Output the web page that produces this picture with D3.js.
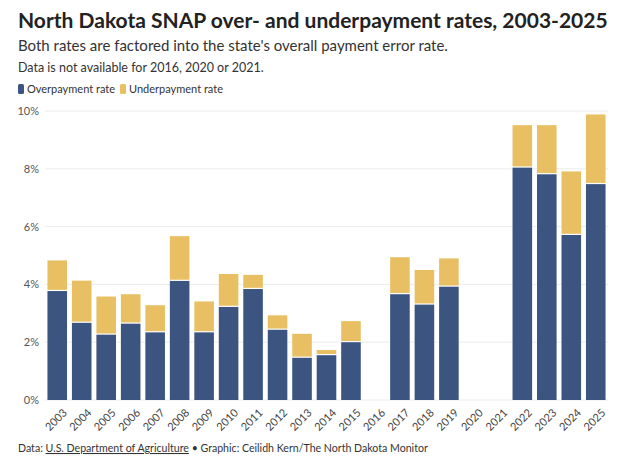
<!DOCTYPE html>
<html><head><meta charset="utf-8">
<script src="https://cdn.jsdelivr.net/npm/d3@7/dist/d3.min.js"></script>
<style>
body{margin:0;background:#fff;font-family:Lato, "Open Sans", sans-serif;}
svg text{font-family:Lato, "Open Sans", sans-serif;}
</style></head><body>
<svg id="c" width="640" height="462"></svg>
<script>
const years = ["2003","2004","2005","2006","2007","2008","2009","2010","2011","2012","2013","2014","2015","2016","2017","2018","2019","2020","2021","2022","2023","2024","2025"];
const overpayment = [3.77,2.67,2.26,2.64,2.34,4.12,2.34,3.22,3.84,2.43,1.46,1.55,2.00,null,3.66,3.30,3.92,null,null,8.04,7.81,5.71,7.47];
const underpayment = [1.06,1.46,1.32,1.02,0.94,1.55,1.07,1.14,0.49,0.50,0.83,0.18,0.73,null,1.28,1.20,0.98,null,null,1.47,1.70,2.20,2.41];
const yTicks = [0,2,4,6,8,10];
const seriesNames = ["Overpayment rate","Underpayment rate"];
const colors = ["#3b5580","#e8c063"];

const svg = d3.select("#c");
const m = {l:45, r:32, t:111, b:62};
const W = 640, H = 462;
const x = d3.scaleBand().domain(years).range([m.l, W - m.r]).paddingInner(0.2).paddingOuter(0.1);
const y = d3.scaleLinear().domain([0,10]).range([H - m.b, m.t]);

// titles
svg.append("text").attr("x",18).attr("y",28).attr("font-size",21).attr("font-weight",700).attr("fill","#222")
  .text("North Dakota SNAP over- and underpayment rates, 2003-2025");
svg.append("text").attr("x",18).attr("y",51).attr("font-size",15).attr("fill","#333")
  .text("Both rates are factored into the state's overall payment error rate.");
svg.append("text").attr("x",18).attr("y",72).attr("font-size",12.5).attr("fill","#333")
  .text("Data is not available for 2016, 2020 or 2021.");

// legend
const lg = svg.append("g").attr("transform","translate(18,84)");
let lx = 0;
seriesNames.forEach((n,i)=>{
  lg.append("rect").attr("x",lx).attr("y",0).attr("width",6).attr("height",10).attr("rx",1.5).attr("fill",colors[i]);
  const t = lg.append("text").attr("x",lx+9).attr("y",9).attr("font-size",11).attr("fill","#333").text(n);
  lx += 9 + t.node().getComputedTextLength() + 5;
});

// grid
svg.append("g").selectAll("line").data(yTicks).join("line")
  .attr("x1",m.l).attr("x2",W - m.r).attr("y1",d=>y(d)).attr("y2",d=>y(d))
  .attr("stroke","#ececec").attr("stroke-width",1);
svg.append("g").selectAll("text").data(yTicks).join("text")
  .attr("x",39).attr("y",d=>y(d)+4).attr("text-anchor","end").attr("font-size",11).attr("fill","#555")
  .text(d=>d+"%");

// bars
const data = years.map((yr,i)=>({yr, o:overpayment[i], u:underpayment[i]})).filter(d=>d.o!==null);
const g = svg.append("g");
g.selectAll("rect.o").data(data).join("rect").attr("class","o")
  .attr("x",d=>x(d.yr)).attr("width",x.bandwidth())
  .attr("y",d=>y(d.o)).attr("height",d=>y(0)-y(d.o)).attr("fill",colors[0]);
g.selectAll("rect.u").data(data).join("rect").attr("class","u")
  .attr("x",d=>x(d.yr)).attr("width",x.bandwidth())
  .attr("y",d=>y(d.o+d.u)).attr("height",d=>y(d.o)-y(d.o+d.u)-1.2).attr("fill",colors[1]);

// x labels
svg.append("g").selectAll("text").data(years).join("text")
  .attr("transform",d=>`translate(${x(d)+x.bandwidth()/2+5},${y(0)+8}) rotate(-45)`)
  .attr("text-anchor","end").attr("dy","0.7em").attr("font-size",11).attr("fill","#444").text(d=>d);

// footer
const f = svg.append("text").attr("x",18).attr("y",452).attr("font-size",10.6).attr("fill","#333");
f.append("tspan").text("Data: ");
f.append("tspan").attr("text-decoration","underline").text("U.S. Department of Agriculture");
f.append("tspan").text(" • Graphic: Ceilidh Kern/The North Dakota Monitor");
</script></body></html>
